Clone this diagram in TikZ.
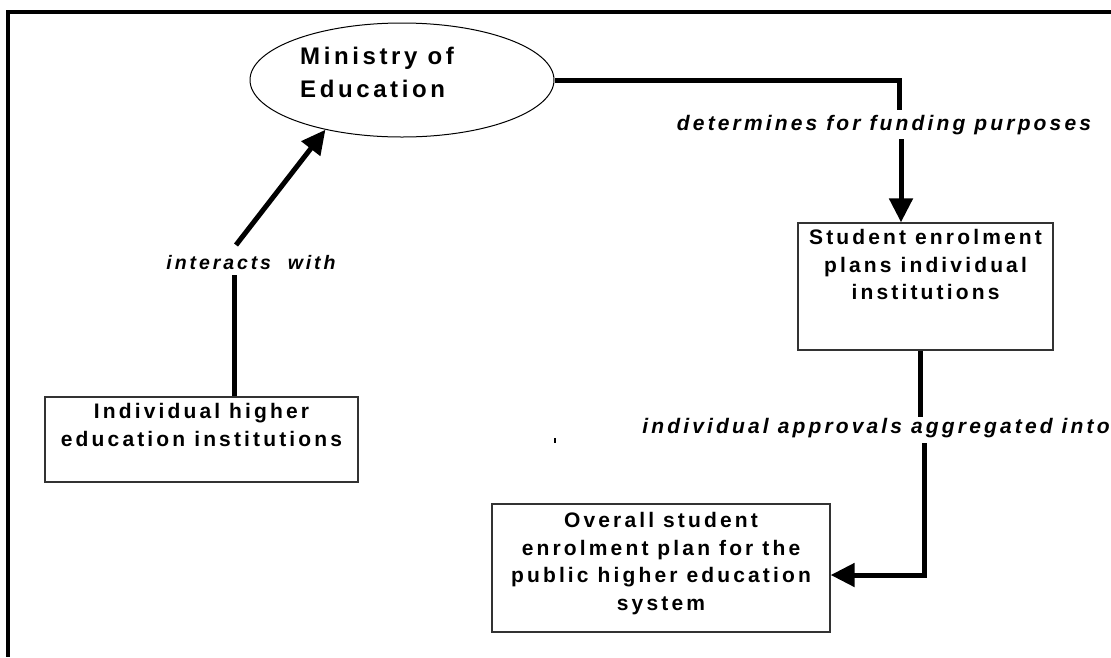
\documentclass[tikz,border=0pt]{standalone}
\usepackage{fontspec}
\newfontfamily\diagfont{Liberation Sans}[LetterSpace=15]
\usetikzlibrary{arrows.meta}
\usetikzlibrary{positioning}
\usetikzlibrary{shapes.geometric}

\begin{document}
\begin{tikzpicture}[line join=miter,>={Triangle[length=24pt,width=23pt]},x=1pt,y=-1pt,
  box/.style={draw=black!80,line width=1.3pt,rectangle,inner sep=0pt},
  boxtext/.style={align=center,inner sep=0pt,font=\diagfont\bfseries\fontsize{21pt}{27.5pt}\selectfont},
  lbl/.style={inner sep=0pt,font=\diagfont\bfseries\itshape\fontsize{21pt}{25pt}\selectfont},
  conn/.style={line width=5pt}]
\useasboundingbox (0,0) rectangle (1111,657);
% frame (top and left only)
\draw[line width=3.2pt] (1111,12) -- (8,12) -- (8,657);

% ministry
\node[ellipse,draw,line width=1pt,minimum width=304pt,minimum height=114pt,inner sep=0pt] (moe) at (402,80) {};
\node[anchor=west,align=left,inner sep=0pt,font=\diagfont\bfseries\fontsize{24pt}{33pt}\selectfont] (moetext) at (300,72) {Ministry of\\Education};

% boxes
\node[box,minimum width=313pt,minimum height=85pt] (inst) at (201.5,439.5) {};
\node[boxtext,below=7pt of inst.north] (insttext) {Individual higher\\education institutions};
\node[box,minimum width=255pt,minimum height=127pt] (stud) at (925.5,286.5) {};
\node[boxtext,below=7pt of stud.north] (studtext) {Student enrolment\\plans individual\\institutions};
\node[box,minimum width=338pt,minimum height=128pt] (plan) at (661,568) {};
\node[boxtext,below=9pt of plan.north] (plantext) {Overall student\\enrolment plan for the\\public higher education\\system};

% labels
\node[lbl,font=\diagfont\bfseries\itshape\fontsize{19.5pt}{24pt}\selectfont] (interacts) at (251,263) {interacts\ \ with};
\node[lbl] (determines) at (884,125) {determines for funding purposes};
\node[lbl] (aggregated) at (876,428) {individual approvals aggregated into};

% connectors
\coordinate (intA) at (234,275);
\coordinate (intB) at (236,245);
\draw[conn] (inst.north -| intA) -- (intA);
\draw[conn,->] (intB) -- (moe.213);

\coordinate (detA) at (899,110);
\coordinate (detB) at (901,139);
\draw[conn] (moe.east) -| (detA);
\draw[conn,->] (detB) -- (stud.north -| detB);

\coordinate (aggA) at (920,417);
\coordinate (aggB) at (924,443);
\coordinate (aggC) at (924,575);
\draw[conn] (stud.south -| aggA) -- (aggA);
\draw[conn,->] (aggB) -- (aggC) -- (plan.east |- aggC);

\draw[line width=1.5pt] (555,438) -- (555,443);
\end{tikzpicture}
\end{document}
